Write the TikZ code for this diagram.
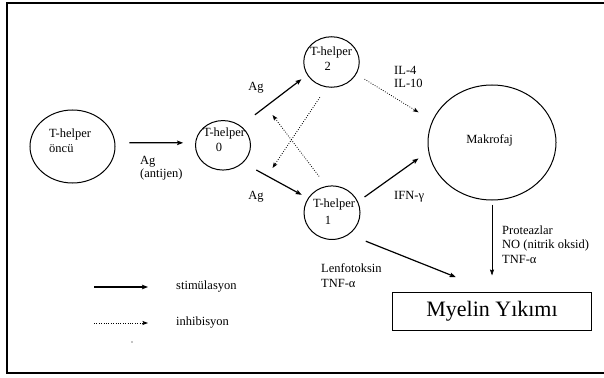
\documentclass[tikz,border=0pt]{standalone}
\usepackage{fontspec}
\setmainfont{Liberation Serif}
\usetikzlibrary{arrows.meta,calc,shapes.geometric}
\begin{document}
\begin{tikzpicture}[x=1pt,y=-1pt,
  cell/.style={draw,ellipse,inner sep=0pt,line width=1pt},
  lbl/.style={font=\fontsize{12.5}{13}\selectfont,inner sep=0pt},
  txt/.style={lbl,anchor=west,align=left},
  stim/.style={line width=1.2pt,-{Stealth[length=6pt,width=4.5pt,inset=1pt]}},
  thinstim/.style={line width=0.7pt,-{Stealth[length=6pt,width=4pt,inset=1pt]}},
  inhib/.style={line width=0.8pt,dash pattern=on 0.8pt off 1.6pt,-{Stealth[length=5.5pt,width=4pt,inset=1pt]}},
]
\useasboundingbox (0,0) rectangle (604,377);

% outer frame (open on the right)
\draw[line width=2.2pt] (604,3) -- (7,3) -- (7,373) -- (604,373);

% cells
\node[cell,minimum width=85pt,minimum height=73pt] (oncu) at (72.5,146.5) {};
\node[cell,minimum width=55pt,minimum height=49.5pt] (th0) at (223,145.3) {};
\node[cell,minimum width=55.5pt,minimum height=50.5pt] (th2) at (331.5,62) {};
\node[cell,minimum width=56pt,minimum height=53.5pt] (th1) at (332,212.7) {};
\node[cell,minimum width=128pt,minimum height=115pt] (mak) at (492,142.5) {};
\node[draw,line width=1pt,minimum width=199pt,minimum height=38pt,inner sep=0pt,
      font=\fontsize{22}{24}\selectfont] (myelin) at (492,311) {Myelin Yıkımı};

% cell labels
\node[txt,font=\fontsize{12.5}{15}\selectfont] (oncut) at (49,140.5) {T-helper\\öncü};
\node[lbl] (th0a) at (224,133) {T-helper};
\node[lbl] (th0b) at (219,147) {0};
\node[lbl] (th2a) at (331,52.7) {T-helper};
\node[lbl] (th2b) at (327.7,66) {2};
\node[lbl] (th1a) at (334,204) {T-helper};
\node[lbl] (th1b) at (328,220) {1};
\node[lbl] (makt) at (489.6,140) {Makrofaj};

% connector labels
\node[txt] (agt) at (140,168.5) {Ag\\(antijen)};
\node[lbl] (ag2) at (256,88) {Ag};
\node[lbl] (ag1) at (256,197) {Ag};
\node[txt] (ilt) at (394,76.5) {IL-4\\IL-10};
\node[txt] (ifn) at (394,197) {IFN-γ};
\node[txt,font=\fontsize{12.5}{15}\selectfont] (lenf) at (321,275.5) {Lenfotoksin\\TNF-α};
\node[txt,font=\fontsize{12.5}{14.5}\selectfont] (prot) at (502,244.5) {Proteazlar\\NO (nitrik oksid)\\TNF-α};

% stimulation
\draw[stim,shorten <=14pt,shorten >=12pt] (oncu.5) -- (th0.175);
\draw[stim,shorten <=18pt,shorten >=7pt] (th0.48) -- (th2.208);
\draw[stim,shorten <=15pt,shorten >=7pt] (th0.-41) -- (th1.149);
\draw[stim,shorten <=8pt,shorten >=12pt] (th1.23) -- (mak.188);
\draw[stim,shorten <=18pt,shorten >=39pt] (th1.-52) -- (myelin.north);
\draw[thinstim,shorten <=4pt,shorten >=16pt] (mak.south) -- (myelin.north);

% inhibition
\coordinate (toTh1path) at (272.5,168);
\coordinate (toTh2path) at (272.5,115);
\draw[inhib,shorten <=12pt] (th2.259) -- (toTh1path);
\draw[inhib,shorten <=12pt] (th1.102) -- (toTh2path);
\draw[inhib,shorten <=9.5pt,shorten >=16pt] (th2.-26) -- (mak.160);

% legend
\node[txt] (stimt) at (176,287) {stimülasyon};
\node[txt] (inht) at (176,323) {inhibisyon};
\coordinate (ls1) at (94,287);
\coordinate (ls2) at (148,287);
\coordinate (li1) at (94,323);
\coordinate (li2) at (148,323);
\draw[stim] (ls1) -- (ls2);
\draw[inhib] (li1) -- (li2);
\fill (132,342) circle (0.6pt);
\end{tikzpicture}
\end{document}
